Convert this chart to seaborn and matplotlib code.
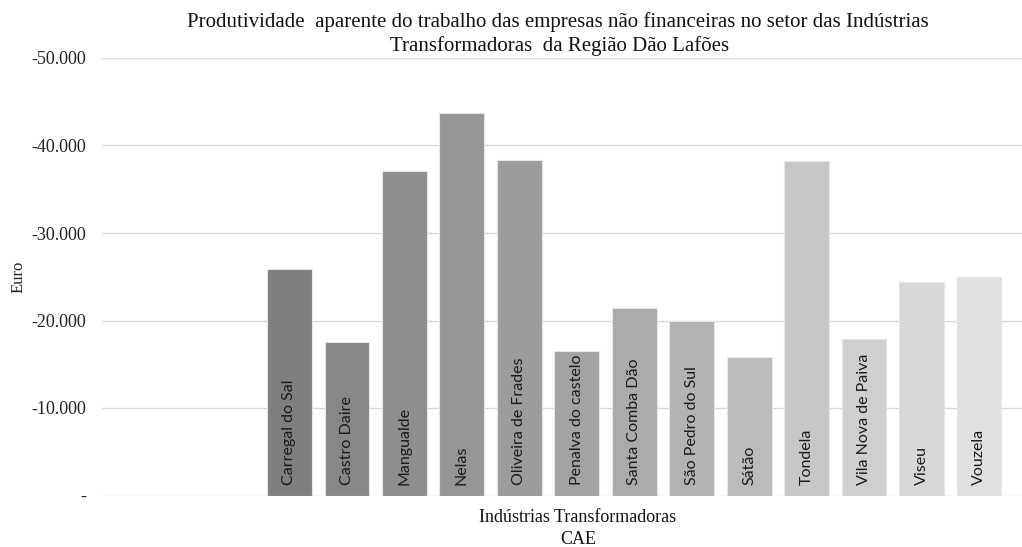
import matplotlib
matplotlib.use("Agg")
import matplotlib.pyplot as plt
import seaborn as sns
import pandas as pd
from matplotlib.ticker import FuncFormatter, MultipleLocator

municipios = ["Carregal do Sal", "Castro Daire", "Mangualde", "Nelas", "Oliveira de Frades",
              "Penalva do castelo", "Santa Comba Dão", "São Pedro do Sul", "Sátão", "Tondela",
              "Vila Nova de Paiva", "Viseu", "Vouzela"]
produtividade = [25900, 17500, 37050, 43750, 38350, 16550, 21450, 20000, 15800, 38250,
                 17900, 24450, 25000]

cores = ["#7f7f7f", "#878787", "#8e8e8e", "#959595", "#9c9c9c", "#a3a3a3", "#ababab",
         "#b3b3b3", "#bcbcbc", "#c7c7c7", "#cfcfcf", "#d8d8d8", "#e0e0e0"]

df = pd.DataFrame({"municipio": municipios, "valor": produtividade})

sns.set_theme(style="white")
plt.rcParams["font.family"] = ["Liberation Serif", "DejaVu Serif"]

fig = plt.figure(figsize=(10.22, 5.47), dpi=100)
ax = fig.add_axes([102/1022, (547-495.5)/547, (1022-102)/1022, (495.5-58)/547])

sns.barplot(data=df, x="municipio", y="valor", hue="municipio", palette=cores,
            width=0.78, legend=False, ax=ax, edgecolor="#e6e6e6", linewidth=0.8,
            saturation=1)

ax.set_ylim(0, 50000)
ax.set_xlim(-3.263, 12.75)
ax.yaxis.set_major_locator(MultipleLocator(10000))
ax.yaxis.set_major_formatter(FuncFormatter(
    lambda v, p: "-" if v == 0 else "-" + f"{int(v):,}".replace(",", ".")))
ax.grid(axis="y", color="#d9d9d9", linewidth=1)
ax.set_axisbelow(True)
for s in ax.spines.values():
    s.set_visible(False)
ax.tick_params(axis="y", length=0, pad=11.5, labelsize=13, labelcolor="#222222")
ax.set_xticks([])
ax.set_xlabel("")
ax.set_ylabel("Euro", fontsize=12, color="#222222")
ax.yaxis.set_label_coords(-0.082, 0.5)

for i, (m, v) in enumerate(zip(municipios, produtividade)):
    ax.annotate(m, xy=(i, 0), xytext=(0, 7.5), textcoords="offset points",
                rotation=90, ha="center", va="bottom", fontsize=11.5,
                family="Lato", color="#1a1a1a")

fig.text(558/1022, 1 - 22/547, "Produtividade  aparente do trabalho das empresas não financeiras no setor das Indústrias",
         ha="center", va="center", fontsize=15, color="#111111")
fig.text(560/1022, 1 - 46/547, "Transformadoras  da Região Dão Lafões",
         ha="center", va="center", fontsize=15, color="#111111")
fig.text(578/1022, 1 - 518/547, "Indústrias Transformadoras", ha="center", va="center",
         fontsize=13, color="#111111")
fig.text(578/1022, 1 - 540/547, "CAE", ha="center", va="center", fontsize=13, color="#111111")

fig.savefig("out.png", dpi=100)
